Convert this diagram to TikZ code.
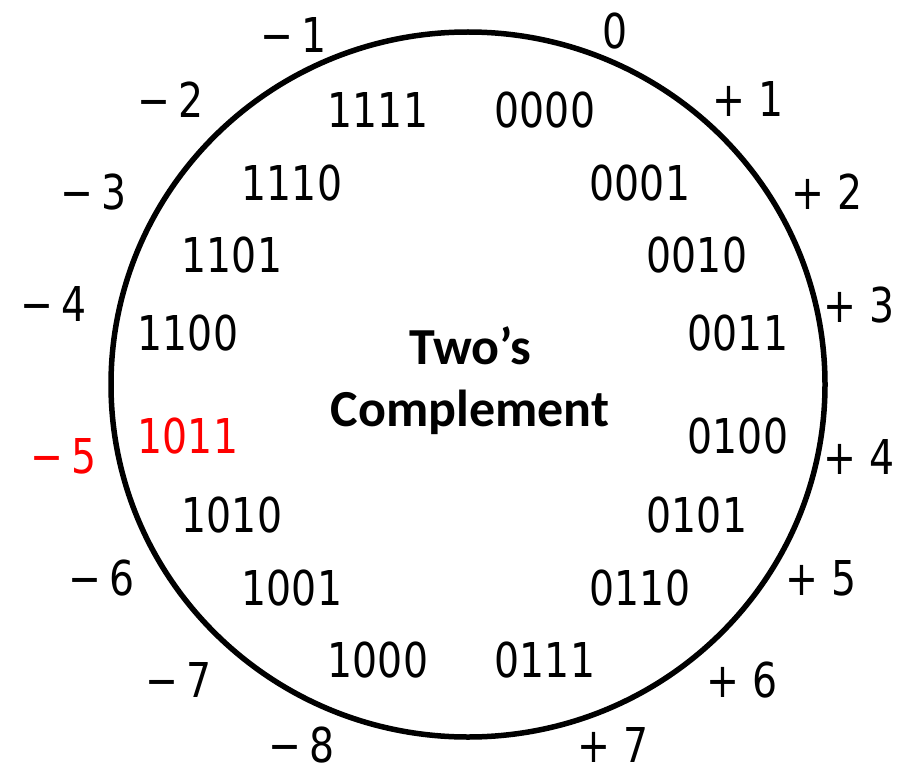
\documentclass[tikz,border=0pt]{standalone}
\usepackage{fontspec}
\usepackage{tikz}
\newfontfamily\numfont[FakeStretch=0.82]{DejaVu Sans}
\newfontfamily\headfont{Carlito}

\begin{document}
\begin{tikzpicture} [x = 1pt, y = -1pt,
  bin/.style = {font = \numfont\fontsize{48}{58}\selectfont, inner sep = 0pt},
  dec/.style = {font = \numfont\fontsize{48}{58}\selectfont, inner sep = 0pt}]
\useasboundingbox (0,0) rectangle (909,770);
\draw [line width = 5.5pt] (468,384.5) ellipse [x radius = 357, y radius = 352.5];
\node (title) [font = \headfont\bfseries\fontsize{52}{62}\selectfont, align = center] at (470,381) {Two’s\\Complement};
% inner ring
\node (b0000) [bin] at (545,110) {0000};
\node (b0001) [bin] at (640,183) {0001};
\node (b0010) [bin] at (697,255) {0010};
\node (b0011) [bin] at (738,333) {0011};
\node (b0100) [bin] at (738,436) {0100};
\node (b0101) [bin] at (697,515) {0101};
\node (b0110) [bin] at (640,588) {0110};
\node (b0111) [bin] at (545,660) {0111};
\node (b1000) [bin] at (378,660) {1000};
\node (b1001) [bin] at (292,588) {1001};
\node (b1010) [bin] at (232,515) {1010};
\node (b1011) [bin, red] at (188,436) {1011};
\node (b1100) [bin] at (188,333) {1100};
\node (b1101) [bin] at (232,255) {1101};
\node (b1110) [bin] at (292,183) {1110};
\node (b1111) [bin] at (378,110) {1111};
% outer ring
\node (p0) [dec] at (615,31) {0};
\node (p1) [dec] at (748,99) {+ 1};
\node (p2) [dec] at (827,192) {+ 2};
\node (p3) [dec] at (859,305) {+ 3};
\node (p4) [dec] at (859,457) {+ 4};
\node (p5) [dec] at (821,578) {+ 5};
\node (p6) [dec] at (742,680) {+ 6};
\node (p7) [dec] at (613,745) {+ 7};
\node (m8) [dec] at (302,745) {−\,8};
\node (m7) [dec] at (179,680) {−\,7};
\node (m6) [dec] at (102,578) {−\,6};
\node (m5) [dec, red] at (64,456) {−\,5};
\node (m4) [dec] at (54,304) {−\,4};
\node (m3) [dec] at (94,192) {−\,3};
\node (m2) [dec] at (171,100) {−\,2};
\node (m1) [dec] at (294,35) {−\,1};
\end{tikzpicture}
\end{document}
